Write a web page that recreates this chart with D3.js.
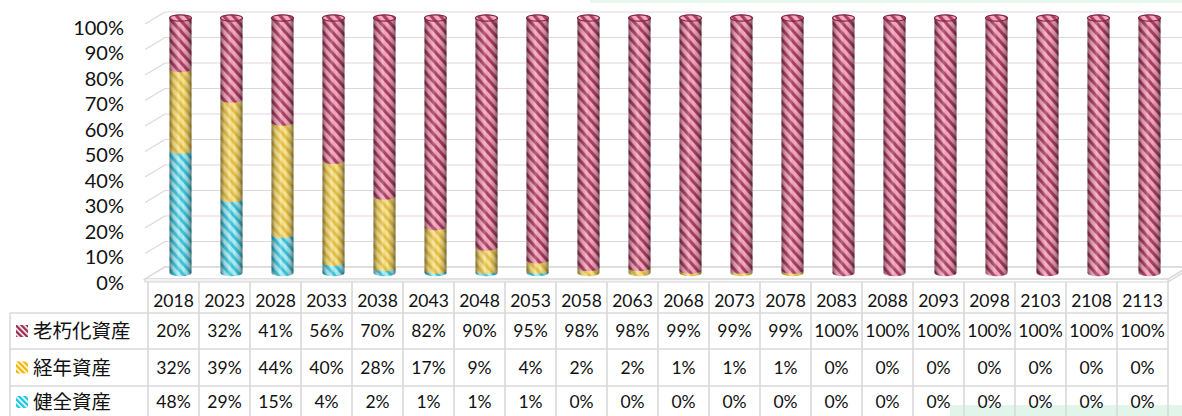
<!DOCTYPE html>
<html><head><meta charset="utf-8">
<script src="https://cdn.jsdelivr.net/npm/d3@7"></script>
<style>
html,body{margin:0;padding:0;background:#fff;}
svg{display:block;}
</style></head>
<body>
<svg id="chart" width="1182" height="416"></svg>
<script>
const years = ["2018","2023","2028","2033","2038","2043","2048","2053","2058","2063","2068","2073","2078","2083","2088","2093","2098","2103","2108","2113"];
const seriesNames = ["老朽化資産","経年資産","健全資産"];
const agingVals   = [20,32,41,56,70,82,90,95,98,98,99,99,99,100,100,100,100,100,100,100];
const agedVals    = [32,39,44,40,28,17,9,4,2,2,1,1,1,0,0,0,0,0,0,0];
const healthyVals = [48,29,15,4,2,1,1,1,0,0,0,0,0,0,0,0,0,0,0,0];
const yTicks = [0,10,20,30,40,50,60,70,80,90,100];

const svg = d3.select("#chart");
const defs = svg.append("defs");

const pal = {
  "老朽化資産": {light:"#f6a9c0", dark:"#ad3f64", edge:"#7d2645", icon:"#9c2f51"},
  "経年資産":   {light:"#fbe68f", dark:"#eac246", edge:"#c99a1c", icon:"#f2b500"},
  "健全資産":   {light:"#aef0f9", dark:"#3fc6de", edge:"#1f9bb5", icon:"#1ec6e6"}
};
seriesNames.forEach((s,i)=>{
  const c = pal[s];
  const p = defs.append("pattern").attr("id","hatch"+i).attr("patternUnits","userSpaceOnUse")
    .attr("width",7).attr("height",7).attr("patternTransform","rotate(-42)");
  p.append("rect").attr("width",7).attr("height",7).attr("fill",c.light);
  p.append("rect").attr("width",3.2).attr("height",7).attr("fill",c.dark);
  const q = defs.append("pattern").attr("id","icon"+i).attr("patternUnits","userSpaceOnUse")
    .attr("width",4).attr("height",4).attr("patternTransform","rotate(-45)");
  q.append("rect").attr("width",4).attr("height",4).attr("fill","#fff");
  q.append("rect").attr("width",2.4).attr("height",4).attr("fill",c.icon);
});
const g = defs.append("linearGradient").attr("id","shade").attr("x1","0").attr("x2","1").attr("y1","0").attr("y2","0");
[[0,"#000",0.45],[0.18,"#000",0.12],[0.42,"#fff",0.18],[0.62,"#000",0.0],[0.85,"#000",0.2],[1,"#000",0.5]].forEach(s=>{
  g.append("stop").attr("offset",s[0]).attr("stop-color",s[1]).attr("stop-opacity",s[2]);
});

svg.append("rect").attr("x",590).attr("y",0).attr("width",592).attr("height",3).attr("fill","#e8f6ee");
svg.append("rect").attr("x",950).attr("y",405).attr("width",232).attr("height",11).attr("fill","#e2f5ea");

const x = d3.scaleBand().domain(years).range([148,1168]).padding(0);
const yMid = d3.scaleLinear().domain([0,100]).range([273,18]);
const yBack = d3.scaleLinear().domain([0,100]).range([267,12]);
const yFront = d3.scaleLinear().domain([0,100]).range([279,24]);
const dX = 20;

const grid = svg.append("g");
yTicks.forEach(v=>{
  grid.append("line").attr("x1",145+dX).attr("x2",1188).attr("y1",yBack(v)).attr("y2",yBack(v))
    .attr("stroke","#e3d6db").attr("stroke-width",1.2);
  grid.append("line").attr("x1",145).attr("x2",145+dX).attr("y1",yFront(v)).attr("y2",yBack(v))
    .attr("stroke","#e3d6db").attr("stroke-width",1.2);
});
svg.append("path").attr("d",`M145,${yFront(0)} L1168,${yFront(0)} L${1168+dX},${yBack(0)} L${145+dX},${yBack(0)} Z`)
  .attr("fill","#fff").attr("stroke","#d6d6d6").attr("stroke-width",1.3);
svg.append("path").attr("d",`M145,${yFront(0)} L145,${yFront(0)+3} L1168,${yFront(0)+3} L1168,${yFront(0)} L${1168+dX},${yBack(0)} L${1168+dX},${yBack(0)+3} L1168,${yFront(0)+3}`)
  .attr("fill","#f2f2f2").attr("stroke","#d6d6d6").attr("stroke-width",1.2);

const rows = years.map((yr,i)=>({year:yr, p2:healthyVals[i], p1:agedVals[i], p0:agingVals[i]}));
const stackedOrder = d3.stack().keys(["p2","p1","p0"])(rows);
const r = 11, ry = 3.2;
const bars = svg.append("g");
years.forEach((yr,i)=>{
  const cx = x(yr) + x.bandwidth()/2 + 7;
  let topIdx = -1;
  stackedOrder.forEach((layer,li)=>{ if(layer[i][1]-layer[i][0] > 0) topIdx = li; });
  stackedOrder.forEach((layer,li)=>{
    const d = layer[i];
    if (d[1]-d[0] <= 0) return;
    const sIdx = {p0:0,p1:1,p2:2}[layer.key];
    const c = pal[seriesNames[sIdx]];
    const yT = yMid(d[1]), yB = yMid(d[0]);
    const path = `M${cx-r},${yT} L${cx-r},${yB} A${r},${ry} 0 0 0 ${cx+r},${yB} L${cx+r},${yT} Z`;
    bars.append("path").attr("d",path).attr("fill",`url(#hatch${sIdx})`);
    bars.append("path").attr("d",path).attr("fill","url(#shade)");
    if (li === topIdx) {
      bars.append("ellipse").attr("cx",cx).attr("cy",yT).attr("rx",r).attr("ry",ry)
        .attr("fill",`url(#hatch${sIdx})`).attr("stroke",c.edge).attr("stroke-width",1.2);
    }
  });
});

const axis = d3.axisLeft(yFront).tickValues(yTicks).tickFormat(d=>d+"%").tickSize(0).tickPadding(0);
const ax = svg.append("g").attr("transform","translate(124,3)").call(axis);
ax.select(".domain").remove();
ax.selectAll("text").attr("font-family","Lato, 'Noto Sans', sans-serif").attr("font-size",20).attr("fill","#111").attr("dy","0.35em");

const tbl = svg.append("g");
const lc = "#d9d9d9";
const rowTops = [313,349,386,418];
const tableVals = [agingVals, agedVals, healthyVals];
years.forEach(yr=>{
  tbl.append("line").attr("x1",x(yr)).attr("x2",x(yr)).attr("y1",282).attr("y2",416).attr("stroke",lc).attr("stroke-width",1.6);
});
tbl.append("line").attr("x1",1168).attr("x2",1168).attr("y1",282).attr("y2",416).attr("stroke",lc).attr("stroke-width",1.6);
tbl.append("line").attr("x1",10).attr("x2",10).attr("y1",313).attr("y2",416).attr("stroke",lc).attr("stroke-width",1.6);
rowTops.slice(0,3).forEach(yv=>{
  tbl.append("line").attr("x1",10).attr("x2",1168).attr("y1",yv).attr("y2",yv).attr("stroke",lc).attr("stroke-width",1.6);
});
years.forEach(yr=>{
  tbl.append("text").attr("x",x(yr)+x.bandwidth()/2).attr("y",301).attr("dy","0.35em")
    .attr("text-anchor","middle").attr("font-family","Lato, 'Noto Sans', sans-serif").attr("font-size",17.5).attr("fill","#111").text(yr);
});
seriesNames.forEach((s,ri)=>{
  const cy = (rowTops[ri]+rowTops[ri+1])/2;
  tbl.append("rect").attr("x",16).attr("y",cy-6).attr("width",12).attr("height",12).attr("fill",`url(#icon${ri})`);
  tbl.append("text").attr("x",33).attr("y",cy).attr("dy","0.36em")
    .attr("font-family","'Noto Sans CJK JP', sans-serif").attr("font-size",19.5).attr("fill","#111").text(s);
  years.forEach((yr,i)=>{
    tbl.append("text").attr("x",x(yr)+x.bandwidth()/2).attr("y",cy).attr("dy","0.35em")
      .attr("text-anchor","middle").attr("font-family","Lato, 'Noto Sans', sans-serif").attr("font-size",17.5).attr("fill","#111")
      .text(tableVals[ri][i]+"%");
  });
});
</script>
</body></html>
